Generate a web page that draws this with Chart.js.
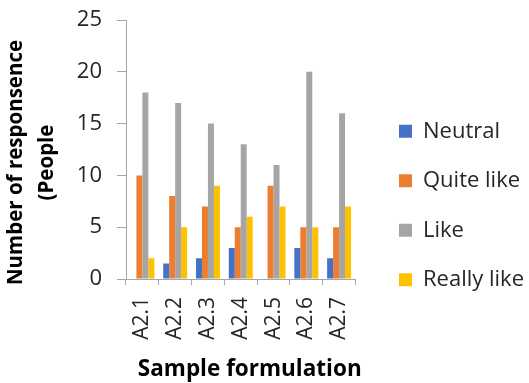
<!DOCTYPE html>
<html>
<head>
<meta charset="utf-8">
<script src="https://cdn.jsdelivr.net/npm/chart.js@4/dist/chart.umd.min.js"></script>
<style>
  html, body { margin: 0; padding: 0; background: #fff; }
  #wrap { width: 529px; height: 383px; position: relative; }
</style>
</head>
<body>
<div id="wrap"><canvas id="chart"></canvas></div>
<script>
const samples = ["A2.1", "A2.2", "A2.3", "A2.4", "A2.5", "A2.6", "A2.7"];
const neutral = [0, 1.5, 2, 3, 0, 3, 2];
const quiteLike = [10, 8, 7, 5, 9, 5, 5];
const like = [18, 17, 15, 13, 11, 20, 16];
const reallyLike = [2, 5, 9, 6, 7, 5, 7];
const yTicks = [0, 5, 10, 15, 20, 25];
const yTitleLines = ["Number of responsence", "(People"];
const xTitle = "Sample formulation";

const fontFamily = "'Open Sans', sans-serif";
const axisGray = "#a6a6a6";
const textColor = "#262626";

// axis titles drawn by hand: the original has them a bit off the plot centre
const axisTitlePlugin = {
  id: "axisTitles",
  afterDraw(chart) {
    const { ctx, chartArea } = chart;
    const midY = (chartArea.top + chartArea.bottom) / 2 + 13;
    const midX = (chartArea.left + chartArea.right) / 2 + 9;
    ctx.save();
    ctx.fillStyle = "#000";
    ctx.textAlign = "center";
    ctx.textBaseline = "middle";
    ctx.font = `bold 20.5px ${fontFamily}`;
    yTitleLines.forEach((line, i) => {
      ctx.save();
      ctx.translate(16 + i * 31, midY);
      ctx.rotate(-Math.PI / 2);
      ctx.fillText(line, 0, 0);
      ctx.restore();
    });
    ctx.font = `bold 22.5px ${fontFamily}`;
    ctx.fillText(xTitle, midX, chartArea.bottom + 91);
    ctx.restore();
  }
};

const chart = new Chart(document.getElementById("chart"), {
  type: "bar",
  data: {
    labels: samples,
    datasets: [
      { label: "Neutral", data: neutral, backgroundColor: "#4472C4" },
      { label: "Quite like", data: quiteLike, backgroundColor: "#ED7D31" },
      { label: "Like", data: like, backgroundColor: "#A5A5A5" },
      { label: "Really like", data: reallyLike, backgroundColor: "#FFC000" }
    ]
  },
  options: {
    responsive: true,
    maintainAspectRatio: false,
    animation: false,
    layout: { padding: { left: 0, right: -5, top: 20, bottom: -8 } },
    datasets: { bar: { categoryPercentage: 0.73, barPercentage: 1.0 } },
    plugins: {
      tooltip: { enabled: false },
      legend: {
        position: "right",
        maxWidth: 250,
        labels: {
          font: { family: fontFamily, size: 22 },
          color: textColor,
          boxWidth: 13,
          boxHeight: 13,
          padding: 27.5
        }
      }
    },
    scales: {
      x: {
        afterFit(scale) { scale.height = 112; },
        grid: { display: true, drawOnChartArea: false, tickLength: 6, color: axisGray, offset: true },
        border: { color: axisGray, width: 1 },
        ticks: {
          minRotation: 90,
          maxRotation: 90,
          font: { family: fontFamily, size: 21 },
          color: textColor,
          padding: 12
        }
      },
      y: {
        min: 0,
        max: 25,
        afterBuildTicks(scale) {
          scale.ticks = yTicks.map((v) => ({ value: v }));
        },
        afterFit(scale) { scale.width = 126; },
        grid: { display: true, drawOnChartArea: false, tickLength: 9, color: axisGray },
        border: { color: axisGray, width: 1 },
        ticks: {
          // small lineHeight keeps the label padding from pushing the plot top down
          font: { family: fontFamily, size: 22, lineHeight: 0.4 },
          color: textColor,
          padding: 15
        }
      },
      spacer: {
        type: "linear",
        position: "right",
        display: true,
        afterFit(scale) { scale.width = 16; },
        grid: { display: false },
        border: { display: false },
        ticks: { display: false }
      }
    }
  },
  plugins: [axisTitlePlugin]
});
</script>
</body>
</html>
